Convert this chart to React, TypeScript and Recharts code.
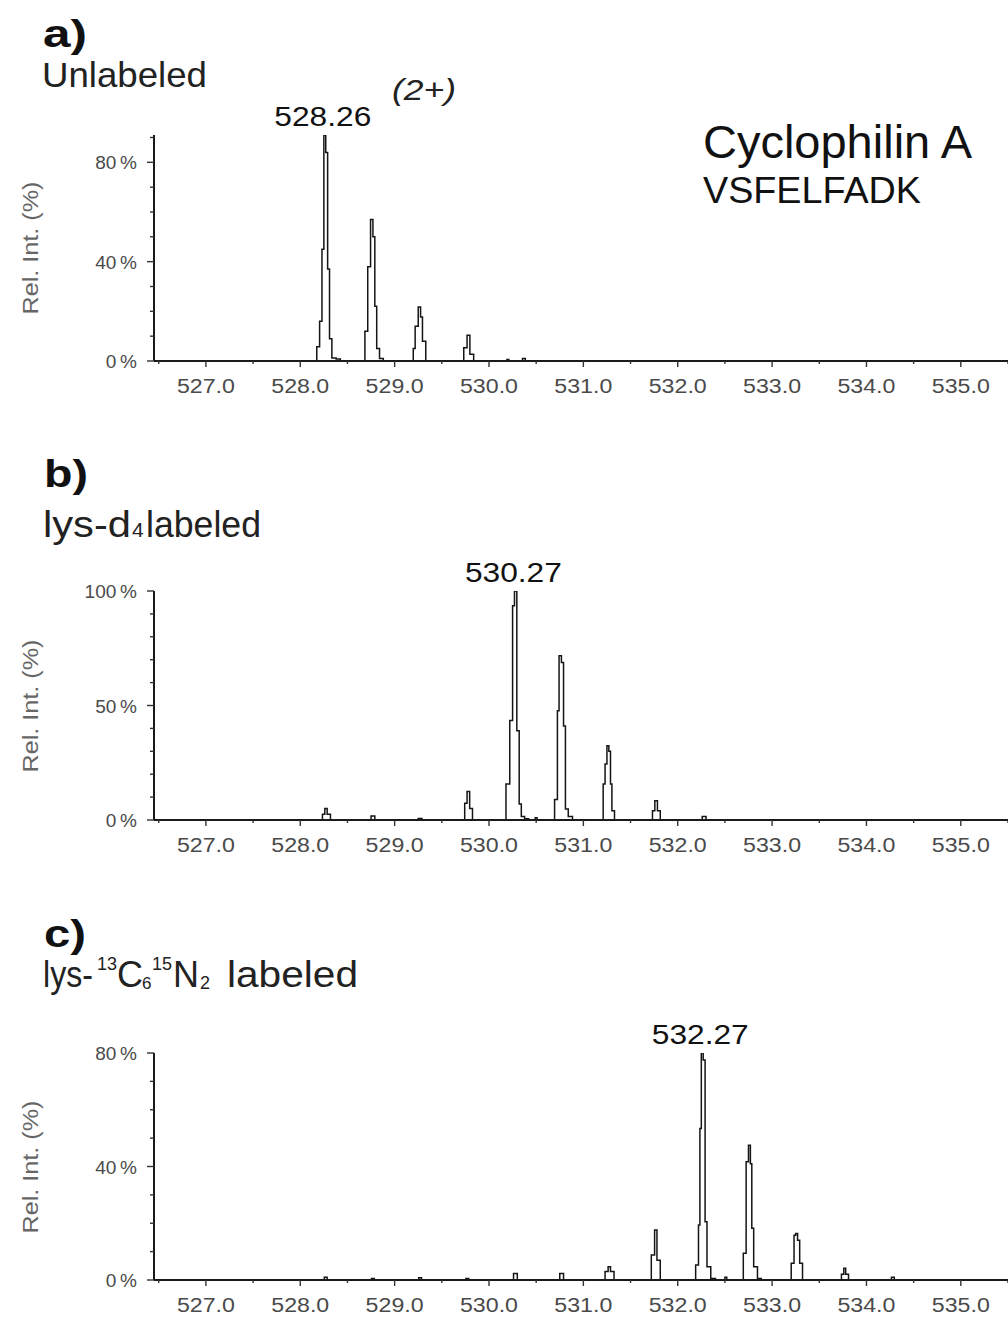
import React from 'react';
import { LineChart, Line, XAxis, YAxis, ReferenceDot } from 'recharts';

// ---------- data ----------
const X_DOMAIN: [number, number] = [526.45, 535.5];
const xTicks = [526.5, 527, 527.5, 528, 528.5, 529, 529.5, 530, 530.5, 531, 531.5, 532, 532.5, 533, 533.5, 534, 534.5, 535, 535.5];

const yTicksA = [0, 10, 20, 30, 40, 50, 60, 70, 80, 90];
const yLabelsA = [0, 40, 80];
const yTicksB = [0, 10, 20, 30, 40, 50, 60, 70, 80, 90, 100];
const yLabelsB = [0, 50, 100];
const yTicksC = [0, 10, 20, 30, 40, 50, 60, 70, 80];
const yLabelsC = [0, 40, 80];

// [m/z, relative intensity %]
const spectrumA: [number, number][] = [
  [526.45, 0], [528.16, 0], [528.19, 5.7], [528.22, 16], [528.24, 45], [528.26, 91], [528.28, 84],
  [528.3, 37], [528.32, 9], [528.35, 1.2], [528.41, 0.8], [528.44, 0],
  [528.67, 0], [528.7, 12], [528.73, 38], [528.76, 57], [528.78, 50], [528.8, 22], [528.82, 5],
  [528.86, 1], [528.9, 0],
  [529.19, 0], [529.205, 5], [529.23, 14], [529.27, 21.7], [529.28, 17.7], [529.31, 8], [529.35, 0],
  [529.71, 0], [529.755, 5.3], [529.78, 10.4], [529.815, 2.7], [529.86, 0],
  [530.18, 0], [530.2, 0.6], [530.22, 0], [530.34, 0], [530.37, 1], [530.4, 0],
  [535.5, 0],
];

const spectrumB: [number, number][] = [
  [526.45, 0], [528.22, 0], [528.25, 2.5], [528.27, 5], [528.3, 2.5], [528.34, 0],
  [528.73, 0], [528.77, 1.7], [528.81, 0],
  [529.23, 0], [529.27, 0.7], [529.31, 0],
  [529.73, 0], [529.755, 7.3], [529.78, 12.4], [529.81, 5], [529.84, 0],
  [530.16, 0], [530.2, 15.7], [530.24, 43.4], [530.26, 93.6], [530.28, 100], [530.31, 39],
  [530.33, 7], [530.355, 1.5], [530.4, 0.5], [530.44, 0], [530.48, 0], [530.5, 1], [530.52, 0],
  [530.67, 0], [530.72, 9], [530.73, 47.7], [530.755, 71.7], [530.78, 68.8], [530.8, 41],
  [530.82, 4.8], [530.86, 1.5], [530.91, 0],
  [531.2, 0], [531.22, 15.7], [531.24, 24.5], [531.26, 32.4], [531.28, 30], [531.295, 15.7],
  [531.31, 4], [531.35, 0],
  [531.72, 0], [531.745, 4], [531.77, 8.4], [531.8, 4], [531.83, 0],
  [532.24, 0], [532.28, 1.5], [532.32, 0],
  [535.5, 0],
];

const spectrumC: [number, number][] = [
  [526.45, 0], [528.24, 0], [528.27, 1], [528.3, 0],
  [528.74, 0], [528.77, 0.5], [528.8, 0],
  [529.24, 0], [529.27, 0.8], [529.3, 0],
  [529.74, 0], [529.77, 0.5], [529.8, 0],
  [530.24, 0], [530.28, 2.3], [530.32, 0],
  [530.73, 0], [530.77, 2.3], [530.81, 0],
  [531.21, 0], [531.25, 3], [531.275, 4.7], [531.3, 3], [531.35, 0],
  [531.7, 0], [531.74, 8.8], [531.77, 17.6], [531.79, 7], [531.84, 0],
  [532.17, 0], [532.21, 5.3], [532.23, 19.4], [532.24, 53.4], [532.26, 80], [532.28, 77.5],
  [532.3, 20.5], [532.32, 4.7], [532.38, 0.5], [532.42, 0], [532.49, 0], [532.51, 1], [532.53, 0],
  [532.68, 0], [532.71, 9.4], [532.74, 41.7], [532.76, 47.5], [532.78, 41], [532.79, 18.2],
  [532.82, 4.7], [532.87, 0.5], [532.9, 0],
  [533.18, 0], [533.225, 5.9], [533.24, 15.8], [533.26, 16.4], [533.28, 14], [533.305, 5.9], [533.34, 0],
  [533.72, 0], [533.75, 2], [533.77, 4.1], [533.79, 2], [533.83, 0],
  [534.25, 0], [534.28, 1], [534.31, 0],
  [535.5, 0],
];

const peakA = { mz: 528.26, i: 91, label: '528.26' };
const peakB = { mz: 530.28, i: 100, label: '530.27' };
const peakC = { mz: 532.26, i: 80, label: '532.27' };

const toRows = (s: [number, number][]) => s.map(([mz, i]) => ({ mz, i }));

// ---------- styling helpers ----------
const FONT = '"Liberation Sans", Arial, Helvetica, sans-serif';
const AXIS_COLOR = '#1a1a1a';

const isMajor = (v: number) => Math.abs(v - Math.round(v)) < 1e-6;

const XTick = (props: any) => {
  const { x, y, payload } = props;
  const v = payload.value as number;
  const major = isMajor(v);
  return (
    <g>
      <line x1={x} y1={y} x2={x} y2={y + (major ? 6 : 3)} stroke="#333" strokeWidth={1.4} />
      {major && (
        <text x={x} y={y + 32} textAnchor="middle" fontFamily={FONT} fontSize={20} fill="#4a4a4a"
          textLength={58} lengthAdjust="spacingAndGlyphs">
          {v.toFixed(1)}
        </text>
      )}
    </g>
  );
};

const makeYTick = (labels: number[]) => (props: any) => {
  const { x, y, payload } = props;
  const v = payload.value as number;
  const major = labels.includes(v);
  return (
    <g>
      <line x1={x - (major ? 7 : 4)} y1={y} x2={x} y2={y} stroke="#333" strokeWidth={1.4} />
      {major && (
        <text x={x - 17} y={y + 7} textAnchor="end" fontFamily={FONT} fontSize={19} fill="#4a4a4a">
          {`${v}\u2009%`}
        </text>
      )}
    </g>
  );
};

const makePeakLabel = (text: string) => (props: any) => {
  const vb = props.viewBox || {};
  const cx = (vb.x ?? 0) + (vb.width ?? 0) / 2;
  const cy = (vb.y ?? 0) + (vb.height ?? 0) / 2;
  return (
    <text x={cx - 2} y={cy - 9} textAnchor="middle" fontFamily={FONT} fontSize={27} fill="#111"
      textLength={97} lengthAdjust="spacingAndGlyphs">
      {text}
    </text>
  );
};

type PanelProps = {
  top: number;
  height: number;
  margin: { top: number; right: number; bottom: number; left: number };
  data: { mz: number; i: number }[];
  yDomain: [number, number];
  yTicks: number[];
  yLabels: number[];
  peak: { mz: number; i: number; label: string };
};

const Panel = ({ top, height, margin, data, yDomain, yTicks, yLabels, peak }: PanelProps) => (
  <div style={{ position: 'absolute', left: 0, top }}>
    <LineChart width={1008} height={height} data={data} margin={margin}>
      <XAxis
        dataKey="mz"
        type="number"
        domain={X_DOMAIN}
        allowDataOverflow
        ticks={xTicks}
        interval={0}
        tickSize={0}
        tickMargin={0}
        tickLine={false}
        tick={<XTick />}
        axisLine={{ stroke: AXIS_COLOR, strokeWidth: 2 }}
        height={30}
      />
      <YAxis
        type="number"
        domain={yDomain}
        allowDataOverflow
        ticks={yTicks}
        interval={0}
        tickSize={0}
        tickMargin={0}
        tickLine={false}
        tick={makeYTick(yLabels)}
        axisLine={{ stroke: AXIS_COLOR, strokeWidth: 2 }}
        width={60}
      />
      <Line
        dataKey="i"
        type="step"
        stroke="#151515"
        strokeWidth={1.5}
        dot={false}
        activeDot={false}
        isAnimationActive={false}
      />
      <ReferenceDot
        x={peak.mz}
        y={peak.i}
        r={0}
        fill="none"
        stroke="none"
        ifOverflow="visible"
        label={{ content: makePeakLabel(peak.label) }}
      />
    </LineChart>
  </div>
);

const YTitle = ({ cy }: { cy: number }) => (
  <text
    x={0}
    y={0}
    transform={`translate(30, ${cy}) rotate(-90)`}
    textAnchor="middle"
    dominantBaseline="central"
    fontFamily={FONT}
    fontSize={22}
    fill="#666"
    textLength={133}
    lengthAdjust="spacingAndGlyphs"
  >
    Rel. Int. (%)
  </text>
);

export default function App() {
  return (
    <div style={{ position: 'absolute', left: 0, top: 0, width: 1008, height: 1322, background: '#fff', overflow: 'hidden' }}>
      <Panel
        top={0}
        height={400}
        margin={{ top: 135, right: 0, bottom: 9, left: 94 }}
        data={toRows(spectrumA)}
        yDomain={[0, 91]}
        yTicks={yTicksA}
        yLabels={yLabelsA}
        peak={peakA}
      />
      <Panel
        top={450}
        height={420}
        margin={{ top: 141, right: 0, bottom: 20, left: 94 }}
        data={toRows(spectrumB)}
        yDomain={[0, 100]}
        yTicks={yTicksB}
        yLabels={yLabelsB}
        peak={peakB}
      />
      <Panel
        top={900}
        height={422}
        margin={{ top: 153, right: 0, bottom: 12, left: 94 }}
        data={toRows(spectrumC)}
        yDomain={[0, 80]}
        yTicks={yTicksC}
        yLabels={yLabelsC}
        peak={peakC}
      />
      <svg width={1008} height={1322} style={{ position: 'absolute', left: 0, top: 0, pointerEvents: 'none' }}>
        <g fontFamily={FONT}>
          {/* panel a */}
          <text x={43} y={47} fontSize={38} fontWeight="bold" fill="#111" textLength={44} lengthAdjust="spacingAndGlyphs">a)</text>
          <text x={42} y={87} fontSize={35} fill="#222" textLength={165} lengthAdjust="spacingAndGlyphs">Unlabeled</text>
          <text x={392} y={100} fontSize={29} fontStyle="italic" fill="#222" textLength={64} lengthAdjust="spacingAndGlyphs">(2+)</text>
          <text x={703} y={158} fontSize={46} fill="#111" textLength={269} lengthAdjust="spacingAndGlyphs">Cyclophilin A</text>
          <text x={703} y={203} fontSize={37} fill="#111" textLength={218} lengthAdjust="spacingAndGlyphs">VSFELFADK</text>
          <YTitle cy={248} />

          {/* panel b */}
          <text x={44} y={487} fontSize={38} fontWeight="bold" fill="#111" textLength={44} lengthAdjust="spacingAndGlyphs">b)</text>
          <text y={537} fill="#222">
            <tspan x={43} fontSize={36} textLength={88} lengthAdjust="spacingAndGlyphs">lys-d</tspan>
            <tspan x={132} fontSize={21}>4</tspan>
            <tspan x={146} fontSize={36} textLength={115} lengthAdjust="spacingAndGlyphs">labeled</tspan>
          </text>
          <YTitle cy={706} />

          {/* panel c */}
          <text x={44} y={947} fontSize={38} fontWeight="bold" fill="#111" textLength={42} lengthAdjust="spacingAndGlyphs">c)</text>
          <text fill="#222">
            <tspan x={43} y={987} fontSize={36} textLength={50} lengthAdjust="spacingAndGlyphs">lys-</tspan>
            <tspan x={97} y={970} fontSize={18}>13</tspan>
            <tspan x={117} y={987} fontSize={36}>C</tspan>
            <tspan x={142} y={989} fontSize={17}>6</tspan>
            <tspan x={152} y={970} fontSize={18}>15</tspan>
            <tspan x={173} y={987} fontSize={36}>N</tspan>
            <tspan x={200} y={989} fontSize={18}>2</tspan>
            <tspan x={227} y={987} fontSize={36} textLength={131} lengthAdjust="spacingAndGlyphs">labeled</tspan>
          </text>
          <YTitle cy={1167} />
        </g>
      </svg>
    </div>
  );
}
